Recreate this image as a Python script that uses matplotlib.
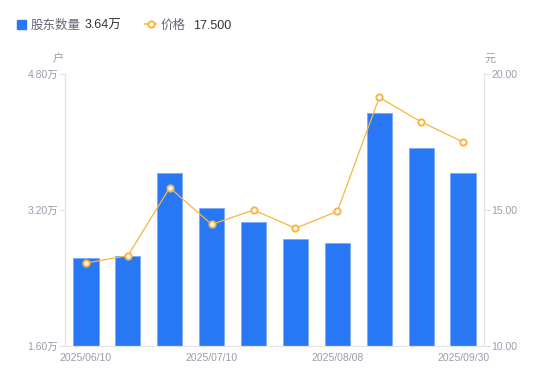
import matplotlib
matplotlib.use("Agg")
import matplotlib.pyplot as plt
from matplotlib.patches import Rectangle
from matplotlib.lines import Line2D
import numpy as np

plt.rcParams['font.family'] = ['Liberation Sans', 'Noto Sans CJK SC', 'DejaVu Sans']

# data
dates = ['2025/06/10', '2025/06/20', '2025/06/30', '2025/07/10', '2025/07/18',
         '2025/07/31', '2025/08/08', '2025/08/20', '2025/08/31', '2025/09/30']
holders = [2.63, 2.66, 3.64, 3.22, 3.06, 2.86, 2.81, 4.34, 3.93, 3.64]   # 万户
price = [13.05, 13.32, 15.82, 14.47, 15.00, 14.33, 14.95, 19.14, 18.24, 17.50]  # 元
left_ticks = [1.60, 3.20, 4.80]
right_ticks = [10.00, 15.00, 20.00]
shown_labels = [0, 3, 6, 9]

BLUE = '#2878f6'
ORANGE = '#f9b53f'
GRID = '#e3e3e8'
TXT = '#9b9bab'

fig = plt.figure(figsize=(5.5, 3.81), dpi=100)
ax = fig.add_axes([65 / 550, 35 / 381, 419 / 550, 272 / 381])
x = np.arange(len(dates))

ax.bar(x, holders, width=0.6, color=BLUE, edgecolor='#7aaaf8', linewidth=0.6, zorder=2)
ax.set_xlim(-0.5, len(dates) - 0.5)
ax.set_ylim(left_ticks[0], left_ticks[-1])
ax.set_yticks(left_ticks)
ax.set_yticklabels([f'{v:.2f}万' for v in left_ticks])
ax.set_xticks([x[i] for i in shown_labels])
ax.set_xticklabels([dates[i] for i in shown_labels])
ax.tick_params(axis='x', length=0, pad=5, labelsize=7.5, labelcolor=TXT)
ax.tick_params(axis='y', length=4, width=0.8, color=GRID, pad=1, labelsize=7.5, labelcolor=TXT)
for s in ['top', 'right']:
    ax.spines[s].set_visible(False)
for s in ['left', 'bottom']:
    ax.spines[s].set_color(GRID)
    ax.spines[s].set_linewidth(0.9)

ax2 = ax.twinx()
ax2.plot(x, price, color=ORANGE, linewidth=0.9, marker='o', markersize=4.5,
         markerfacecolor='white', markeredgecolor=ORANGE, markeredgewidth=1.4, zorder=3)
ax2.set_ylim(right_ticks[0], right_ticks[-1])
ax2.set_yticks(right_ticks)
ax2.set_yticklabels([f'{v:.2f}' for v in right_ticks])
ax2.tick_params(axis='y', length=4, width=0.8, color=GRID, pad=1, labelsize=7.5, labelcolor=TXT)
for s in ['top', 'left', 'bottom']:
    ax2.spines[s].set_visible(False)
ax2.spines['right'].set_color(GRID)
ax2.spines['right'].set_linewidth(0.9)

# axis units
fig.text(58 / 550, 1 - 59 / 381, '户', ha='center', va='center', fontsize=8, color=TXT)
fig.text(490 / 550, 1 - 59 / 381, '元', ha='center', va='center', fontsize=8, color=TXT)

# legend
ly = 1 - 24 / 381
ty = 1 - 26 / 381
fig.add_artist(Rectangle((17 / 550, 1 - 28.5 / 381), 8.5 / 550, 8.5 / 381,
                         transform=fig.transFigure, color=BLUE))
fig.text(31 / 550, ty, '股东数量', ha='left', va='center', fontsize=9, color='#666677')
fig.text(85 / 550, ty, f'{holders[-1]:.2f}万', ha='left', va='center', fontsize=9, color='#333333')
fig.add_artist(Line2D([145 / 550, 156 / 550], [ly, ly], transform=fig.transFigure,
                      color=ORANGE, linewidth=1.2))
fig.add_artist(Line2D([150.5 / 550], [ly], transform=fig.transFigure, marker='o',
                      markersize=4.5, markerfacecolor='white', markeredgecolor=ORANGE,
                      markeredgewidth=1.4))
fig.text(161 / 550, ty, '价格', ha='left', va='center', fontsize=9, color='#666677')
fig.text(193 / 550, ty, f'{price[-1]:.3f}', ha='left', va='center', fontsize=9, color='#333333')

fig.savefig('out.png', dpi=100)
